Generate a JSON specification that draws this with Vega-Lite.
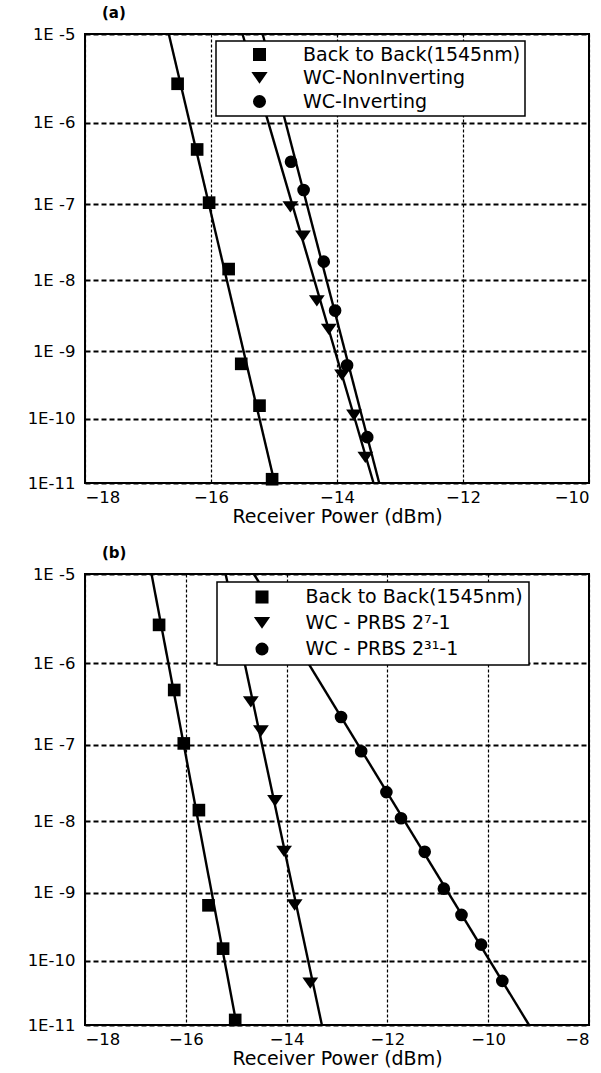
{
  "$schema": "https://vega.github.io/schema/vega-lite/v6.json",
  "background": "white",
  "padding": {"left": 26, "top": 5, "right": 5, "bottom": 5},
  "config": {
    "font": "DejaVu Sans",
    "view": {"stroke": "black", "strokeWidth": 2},
    "axis": {
      "labelFont": "DejaVu Sans", "labelFontSize": 16.5, "labelColor": "black",
      "titleFont": "DejaVu Sans", "titleFontSize": 19, "titleFontWeight": "normal", "titleColor": "black",
      "ticks": false, "tickSize": 0, "domain": false,
      "gridColor": "black", "gridOpacity": 1
    },
    "axisX": {"gridDash": [3, 2], "gridWidth": 1.2, "labelPadding": 6, "titlePadding": 2, "format": "d"},
    "axisY": {"gridDash": [5, 3], "gridWidth": 1.8, "labelPadding": 10},
    "legend": {
      "orient": "none", "strokeColor": "black", "strokeWidth": 1.5, "fillColor": "white",
      "labelFont": "DejaVu Sans", "labelFontSize": 19, "labelColor": "black", "labelLimit": 400,
      "symbolOffset": 30, "labelOffset": 34, "symbolSize": 170,
      "symbolFillColor": "black", "symbolStrokeColor": "black"
    },
    "title": {"fontSize": 15, "fontWeight": "bold", "anchor": "start", "frame": "group", "dx": 17, "offset": 5, "color": "black", "font": "DejaVu Sans"},
    "concat": {"spacing": 17}
  },
  "datasets": {
    "points": [
      {"panel": "a", "series": "Back to Back(1545nm)", "power": -16.53, "log10_ber": -5.55},
      {"panel": "a", "series": "Back to Back(1545nm)", "power": -16.22, "log10_ber": -6.32},
      {"panel": "a", "series": "Back to Back(1545nm)", "power": -16.03, "log10_ber": -6.98},
      {"panel": "a", "series": "Back to Back(1545nm)", "power": -15.72, "log10_ber": -7.85},
      {"panel": "a", "series": "Back to Back(1545nm)", "power": -15.52, "log10_ber": -9.18},
      {"panel": "a", "series": "Back to Back(1545nm)", "power": -15.23, "log10_ber": -9.80},
      {"panel": "a", "series": "Back to Back(1545nm)", "power": -15.03, "log10_ber": -10.94},
      {"panel": "a", "series": "WC-NonInverting", "power": -14.74, "log10_ber": -7.03},
      {"panel": "a", "series": "WC-NonInverting", "power": -14.54, "log10_ber": -7.41},
      {"panel": "a", "series": "WC-NonInverting", "power": -14.32, "log10_ber": -8.28},
      {"panel": "a", "series": "WC-NonInverting", "power": -14.13, "log10_ber": -8.68},
      {"panel": "a", "series": "WC-NonInverting", "power": -13.92, "log10_ber": -9.34},
      {"panel": "a", "series": "WC-NonInverting", "power": -13.73, "log10_ber": -9.94},
      {"panel": "a", "series": "WC-NonInverting", "power": -13.55, "log10_ber": -10.59},
      {"panel": "a", "series": "WC-Inverting", "power": -14.73, "log10_ber": -6.47},
      {"panel": "a", "series": "WC-Inverting", "power": -14.53, "log10_ber": -6.82},
      {"panel": "a", "series": "WC-Inverting", "power": -14.21, "log10_ber": -7.75},
      {"panel": "a", "series": "WC-Inverting", "power": -14.03, "log10_ber": -8.42},
      {"panel": "a", "series": "WC-Inverting", "power": -13.84, "log10_ber": -9.20},
      {"panel": "a", "series": "WC-Inverting", "power": -13.52, "log10_ber": -10.28},
      {"panel": "b", "series": "Back to Back(1545nm)", "power": -16.53, "log10_ber": -5.56},
      {"panel": "b", "series": "Back to Back(1545nm)", "power": -16.23, "log10_ber": -6.32},
      {"panel": "b", "series": "Back to Back(1545nm)", "power": -16.04, "log10_ber": -6.98},
      {"panel": "b", "series": "Back to Back(1545nm)", "power": -15.74, "log10_ber": -7.85},
      {"panel": "b", "series": "Back to Back(1545nm)", "power": -15.55, "log10_ber": -9.18},
      {"panel": "b", "series": "Back to Back(1545nm)", "power": -15.26, "log10_ber": -9.82},
      {"panel": "b", "series": "Back to Back(1545nm)", "power": -15.02, "log10_ber": -10.92},
      {"panel": "b", "series": "WC - PRBS 2⁷-1", "power": -14.71, "log10_ber": -6.46},
      {"panel": "b", "series": "WC - PRBS 2⁷-1", "power": -14.51, "log10_ber": -6.82},
      {"panel": "b", "series": "WC - PRBS 2⁷-1", "power": -14.23, "log10_ber": -7.72},
      {"panel": "b", "series": "WC - PRBS 2⁷-1", "power": -14.05, "log10_ber": -8.41},
      {"panel": "b", "series": "WC - PRBS 2⁷-1", "power": -13.84, "log10_ber": -9.17},
      {"panel": "b", "series": "WC - PRBS 2⁷-1", "power": -13.53, "log10_ber": -10.34},
      {"panel": "b", "series": "WC - PRBS 2³¹-1", "power": -12.92, "log10_ber": -6.65},
      {"panel": "b", "series": "WC - PRBS 2³¹-1", "power": -12.52, "log10_ber": -7.08},
      {"panel": "b", "series": "WC - PRBS 2³¹-1", "power": -12.02, "log10_ber": -7.61},
      {"panel": "b", "series": "WC - PRBS 2³¹-1", "power": -11.73, "log10_ber": -7.96},
      {"panel": "b", "series": "WC - PRBS 2³¹-1", "power": -11.26, "log10_ber": -8.42},
      {"panel": "b", "series": "WC - PRBS 2³¹-1", "power": -10.88, "log10_ber": -8.94},
      {"panel": "b", "series": "WC - PRBS 2³¹-1", "power": -10.53, "log10_ber": -9.32},
      {"panel": "b", "series": "WC - PRBS 2³¹-1", "power": -10.14, "log10_ber": -9.76},
      {"panel": "b", "series": "WC - PRBS 2³¹-1", "power": -9.72, "log10_ber": -10.31}
    ],
    "fits": [
      {"panel": "a", "series": "Back to Back(1545nm)", "power": -16.67, "log10_ber": -5},
      {"panel": "a", "series": "Back to Back(1545nm)", "power": -14.99, "log10_ber": -11},
      {"panel": "a", "series": "WC-NonInverting", "power": -15.50, "log10_ber": -5},
      {"panel": "a", "series": "WC-NonInverting", "power": -13.42, "log10_ber": -11},
      {"panel": "a", "series": "WC-Inverting", "power": -15.18, "log10_ber": -5},
      {"panel": "a", "series": "WC-Inverting", "power": -13.33, "log10_ber": -11},
      {"panel": "b", "series": "Back to Back(1545nm)", "power": -16.68, "log10_ber": -5},
      {"panel": "b", "series": "Back to Back(1545nm)", "power": -14.99, "log10_ber": -11},
      {"panel": "b", "series": "WC - PRBS 2⁷-1", "power": -15.21, "log10_ber": -5},
      {"panel": "b", "series": "WC - PRBS 2⁷-1", "power": -13.30, "log10_ber": -11},
      {"panel": "b", "series": "WC - PRBS 2³¹-1", "power": -14.65, "log10_ber": -5},
      {"panel": "b", "series": "WC - PRBS 2³¹-1", "power": -9.19, "log10_ber": -11}
    ]
  },
  "vconcat": [
    {
      "width": 504,
      "height": 449,
      "title": "(a)",
      "layer": [
        {
          "data": {"name": "fits"},
          "transform": [{"filter": "datum.panel == 'a'"}],
          "mark": {"type": "line", "color": "black", "strokeWidth": 2.4},
          "encoding": {
            "x": {"field": "power", "type": "quantitative", "scale": {"domain": [-18, -10], "nice": false, "zero": false}, "axis": {"values": [-18, -16, -14, -12, -10], "title": "Receiver Power (dBm)"}},
            "y": {"field": "log10_ber", "type": "quantitative", "scale": {"type": "sqrt", "domain": [-11, -5], "nice": false, "zero": false}, "axis": {"values": [-5, -6, -7, -8, -9, -10, -11], "labelExpr": "datum.value > -9.5 ? '1E -' + (-datum.value) : '1E-' + (-datum.value)"}, "title": null},
            "detail": {"field": "series", "type": "nominal"}
          }
        },
        {
          "data": {"name": "points"},
          "transform": [{"filter": "datum.panel == 'a'"}],
          "mark": {"type": "point", "filled": true, "color": "black", "opacity": 1, "size": 160, "strokeWidth": 0},
          "encoding": {
            "x": {"field": "power", "type": "quantitative"},
            "y": {"field": "log10_ber", "type": "quantitative"},
            "shape": {
              "field": "series", "type": "nominal",
              "scale": {"domain": ["Back to Back(1545nm)", "WC-NonInverting", "WC-Inverting"], "range": ["square", "M-1.25,-0.85L1.25,-0.85L0,0.95Z", "circle"]},
              "legend": {"title": null, "legendX": 131, "legendY": 7, "padding": 4, "rowPadding": 3}
            }
          }
        }
      ]
    },
    {
      "width": 504,
      "height": 451,
      "title": "(b)",
      "layer": [
        {
          "data": {"name": "fits"},
          "transform": [{"filter": "datum.panel == 'b'"}],
          "mark": {"type": "line", "color": "black", "strokeWidth": 2.4},
          "encoding": {
            "x": {"field": "power", "type": "quantitative", "scale": {"domain": [-18, -8], "nice": false, "zero": false}, "axis": {"values": [-18, -16, -14, -12, -10, -8], "title": "Receiver Power (dBm)"}},
            "y": {"field": "log10_ber", "type": "quantitative", "scale": {"type": "sqrt", "domain": [-11, -5], "nice": false, "zero": false}, "axis": {"values": [-5, -6, -7, -8, -9, -10, -11], "labelExpr": "datum.value > -9.5 ? '1E -' + (-datum.value) : '1E-' + (-datum.value)"}, "title": null},
            "detail": {"field": "series", "type": "nominal"}
          }
        },
        {
          "data": {"name": "points"},
          "transform": [{"filter": "datum.panel == 'b'"}],
          "mark": {"type": "point", "filled": true, "color": "black", "opacity": 1, "size": 160, "strokeWidth": 0},
          "encoding": {
            "x": {"field": "power", "type": "quantitative"},
            "y": {"field": "log10_ber", "type": "quantitative"},
            "shape": {
              "field": "series", "type": "nominal",
              "scale": {"domain": ["Back to Back(1545nm)", "WC - PRBS 2⁷-1", "WC - PRBS 2³¹-1"], "range": ["square", "M-1.25,-0.85L1.25,-0.85L0,0.95Z", "circle"]},
              "legend": {"title": null, "legendX": 132, "legendY": 8, "padding": 5.5, "rowPadding": 5.5}
            }
          }
        }
      ]
    }
  ],
  "resolve": {"scale": {"shape": "independent", "x": "independent", "y": "independent"}, "legend": {"shape": "independent"}}
}
